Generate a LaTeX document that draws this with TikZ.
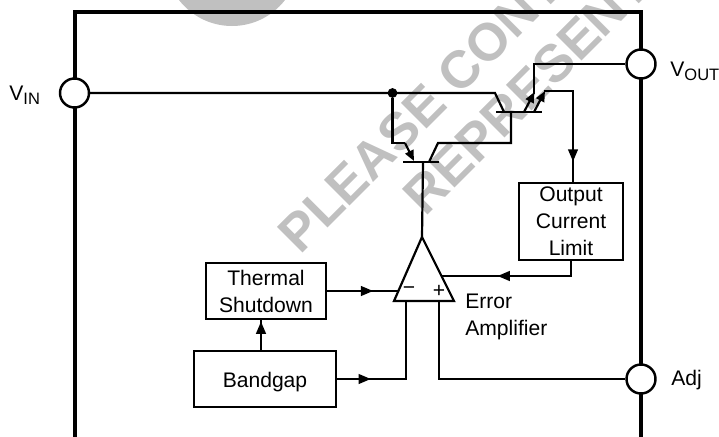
\documentclass[tikz,border=0pt]{standalone}
\usepackage{fontspec}
\setmainfont{Liberation Sans}
\usetikzlibrary{arrows.meta,decorations.markings}

\newcommand{\pinsub}[1]{\raisebox{-2.8pt}{\fontsize{9.4}{10}\selectfont #1}}

\tikzset{
  frame/.style={line width=1.9pt},
  wire/.style={line width=1.25pt,line join=miter},
  bar/.style={line width=1.25pt},
  flow/.style={postaction={decorate,decoration={markings,
    mark=at position #1 with {\arrow{Triangle[length=7pt,width=5.5pt]}}}}},
  tip/.style={-{Triangle[length=6pt,width=5pt]}},
  block/.style={draw,line width=1.2pt,inner sep=0pt,align=center,font=\fontsize{12}{15.4}\selectfont},
  pin/.style={draw,circle,fill=white,line width=1.4pt,minimum size=0.58cm,inner sep=0pt},
  pinlabel/.style={anchor=base west,inner sep=0pt,font=\fontsize{12}{15.4}\selectfont},
  stamp/.style={anchor=base west,rotate=45,inner sep=0pt,text=stampgray,font=\fontsize{30}{30}\selectfont\bfseries}
}
\definecolor{stampgray}{RGB}{192,192,192}

\begin{document}
\begin{tikzpicture}[x=0.02cm,y=-0.02cm]
\useasboundingbox (0,0) rectangle (719,436);
\clip (0,0) rectangle (719,436);
%\draw[help lines,step=50] (0,0) grid (719,436);

% stamp behind the circuit
\fill[stampgray] (232,-41) circle (67);
\node[stamp] (stampa) at (300,256) {PLEASE CONTACT};
\node[stamp] (stampb) at (425.5,217.5) {REPRESENTATIVE};

\coordinate (framea) at (75,445);
\coordinate (frameb) at (641,445);
\draw[frame] (framea) |- (641,12) -- (frameb);

\node[pin] (vin) at (74.5,93) {};
\node[pin] (vout) at (641,64) {};
\node[pin] (adj) at (641,379) {};

\node[pinlabel] (vinlabel) at (9,100) {V\pinsub{IN}};
\node[pinlabel] (voutlabel) at (670,76) {V\pinsub{OUT}};
\node[pinlabel] (adjlabel) at (671,385) {Adj};

\node[block,minimum width=2.4cm,minimum height=1.12cm] (thermal) at (266,291) {Thermal\\Shutdown};
\node[block,minimum width=2.84cm,minimum height=1.12cm,text height=10.2pt,text depth=0pt] (bandgap) at (265,379) {Bandgap};
\node[block,minimum width=2.08cm,minimum height=1.54cm] (limit) at (571,221.5) {Output\\Current\\Limit};

% amplifier
\coordinate (amptop) at (422,237);
\coordinate (ampleft) at (394,301);
\coordinate (ampright) at (454,301);
\coordinate (ampinl) at (398,291);
\coordinate (ampinr) at (441,276);
\coordinate (ampminus) at (406,301);
\coordinate (ampplus) at (439,301);
\draw[wire,line join=miter] (amptop) -- (ampright) -- (ampleft) -- cycle;
\node[inner sep=0pt,font=\fontsize{12}{12}\selectfont] (minus) at (409,291) {−};
\node[inner sep=0pt,font=\fontsize{12}{12}\selectfont] (plus) at (439,291) {+};
\node[pinlabel,anchor=west,align=left] (erroramp) at (465,317) {Error\\Amplifier};

% lower transistor
\coordinate (dota) at (392.5,93);
\coordinate (qabase) at (423,162);
\coordinate (qaemit) at (414,161);
\coordinate (qacoll) at (429,162);
\node[draw,circle,fill,inner sep=0pt,minimum size=0.18cm] (dot) at (dota) {};
\draw[bar] (403,162) -- (439,162);
\draw[wire] (qabase) -- (amptop);
\draw[wire] (dot) |- (405,143);
\draw[wire,tip] (405,143) -- (qaemit);

% upper transistor
\coordinate (qbbase) at (511,112);
\coordinate (qbcoll) at (504,112);
\coordinate (qbemita) at (524,112);
\coordinate (qbemitb) at (534,112);
\draw[bar] (496,112) -- (542,112);
\draw[wire] (vin) -- (495,93) -- (qbcoll);
\draw[wire] (qacoll) -- (438,143) -- (511,143) -- (qbbase);
\draw[wire,tip] (qbemita) -- (534.5,92);
\draw[wire,tip] (qbemitb) -- (545,91);
\draw[wire] (534,94) |- (vout);

% signal lines
\draw[wire,flow=0.83] (544,91) -- (573,91) -- (limit.north -| 573,0);
\draw[wire,flow=0.61] (limit.south) |- (ampinr);
\draw[wire,flow=0.65] (thermal.east |- ampinl) -- (ampinl);
\draw[wire,flow=0.95] (bandgap.north -| 261,0) -- (thermal.south -| 261,0);
\draw[wire,flow=0.23] (bandgap.east) -| (ampminus);
\draw[wire] (adj) -| (ampplus);
\end{tikzpicture}
\end{document}
